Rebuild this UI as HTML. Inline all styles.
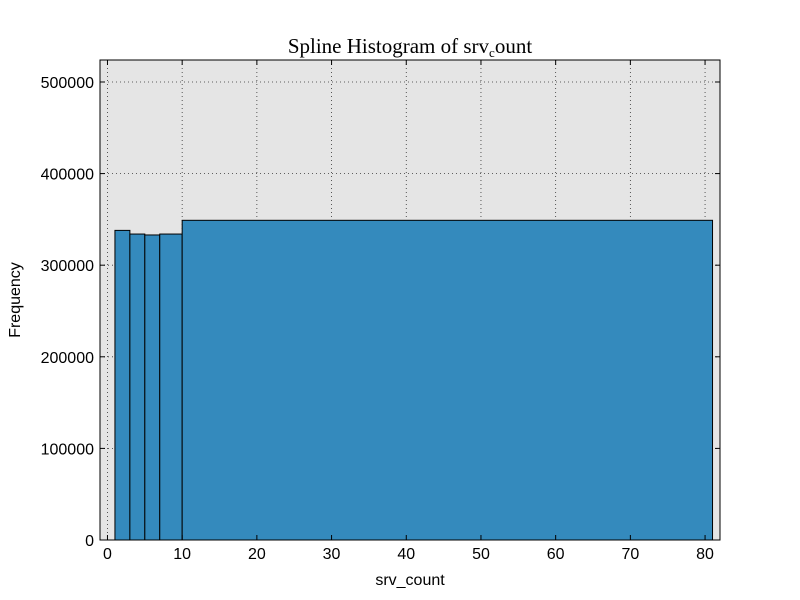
<!DOCTYPE html>
<html><head><meta charset="utf-8"><style>body{margin:0;background:#fff}svg{display:block}</style></head>
<body>
<svg id="c" width="800" height="600" xmlns="http://www.w3.org/2000/svg"></svg>
<script>
const binEdges = [1, 3, 5, 7, 10, 81];
const binCounts = [338000, 334000, 333000, 334000, 349000];
const xTicks = [0, 10, 20, 30, 40, 50, 60, 70, 80];
const yTicks = [0, 100000, 200000, 300000, 400000, 500000];
const xMin = -1, xMax = 82, yMin = 0, yMax = 524000;
const L = 100, R = 720, T = 60, B = 540;
const xs = v => L + (v - xMin) / (xMax - xMin) * (R - L);
const ys = v => B - (v - yMin) / (yMax - yMin) * (B - T);
const svg = document.getElementById('c');
const NS = 'http://www.w3.org/2000/svg';
function mk(tag, attrs, parent) { const e = document.createElementNS(NS, tag); for (const k in attrs) e.setAttribute(k, attrs[k]); (parent || svg).appendChild(e); return e; }
const bg = mk('rect', {x: L, y: T, width: R - L, height: B - T, fill: '#e5e5e5'});


const grid = mk('g', {stroke: '#333', 'stroke-width': 0.8, 'stroke-dasharray': '1,3'});


xTicks.forEach(t => mk('line', {x1: xs(t), x2: xs(t), y1: T, y2: B}, grid));
yTicks.forEach(t => mk('line', {x1: L, x2: R, y1: ys(t), y2: ys(t)}, grid));
binCounts.forEach((c, i) => {
  const r = mk('rect', {x: xs(binEdges[i]), y: ys(c), width: xs(binEdges[i + 1]) - xs(binEdges[i]), height: ys(0) - ys(c), fill: '#348abd', stroke: '#000', 'stroke-width': 1});
  
  
});
const frame = mk('rect', {x: L, y: T, width: R - L, height: B - T, fill: 'none', stroke: '#000', 'stroke-width': 1});


const ff = '"Liberation Sans", sans-serif';
xTicks.forEach(t => {
  mk('line', {x1: xs(t), x2: xs(t), y1: B, y2: B - 5, stroke: '#000'});
  mk('line', {x1: xs(t), x2: xs(t), y1: T, y2: T + 5, stroke: '#000'});
  const tx = mk('text', {x: xs(t), y: B + 19, 'font-size': 16, 'font-family': ff, 'text-anchor': 'middle'});
  tx.textContent = t;
  
  
});
yTicks.forEach(t => {
  mk('line', {x1: L, x2: L + 5, y1: ys(t), y2: ys(t), stroke: '#000'});
  mk('line', {x1: R, x2: R - 5, y1: ys(t), y2: ys(t), stroke: '#000'});
  const tx = mk('text', {x: L - 6, y: ys(t) + 6, 'font-size': 16, 'font-family': ff, 'text-anchor': 'end'});
  tx.textContent = t;
  
  
});
const xl = mk('text', {x: 410, y: 585, 'font-size': 16, 'font-family': ff, 'text-anchor': 'middle'});
xl.textContent = 'srv_count';


const yl = mk('text', {x: 20, y: 300, 'font-size': 16, 'font-family': ff, 'text-anchor': 'middle', transform: 'rotate(-90 20 300)'});
yl.textContent = 'Frequency';


const ti = mk('text', {x: 410, y: 53, 'font-size': 21, 'font-family': '"Liberation Serif", serif', 'text-anchor': 'middle'});
ti.innerHTML = 'Spline Histogram of srv<tspan font-size="13" dy="4">c</tspan><tspan dy="-4">ount</tspan>';


</script>
</body></html>
